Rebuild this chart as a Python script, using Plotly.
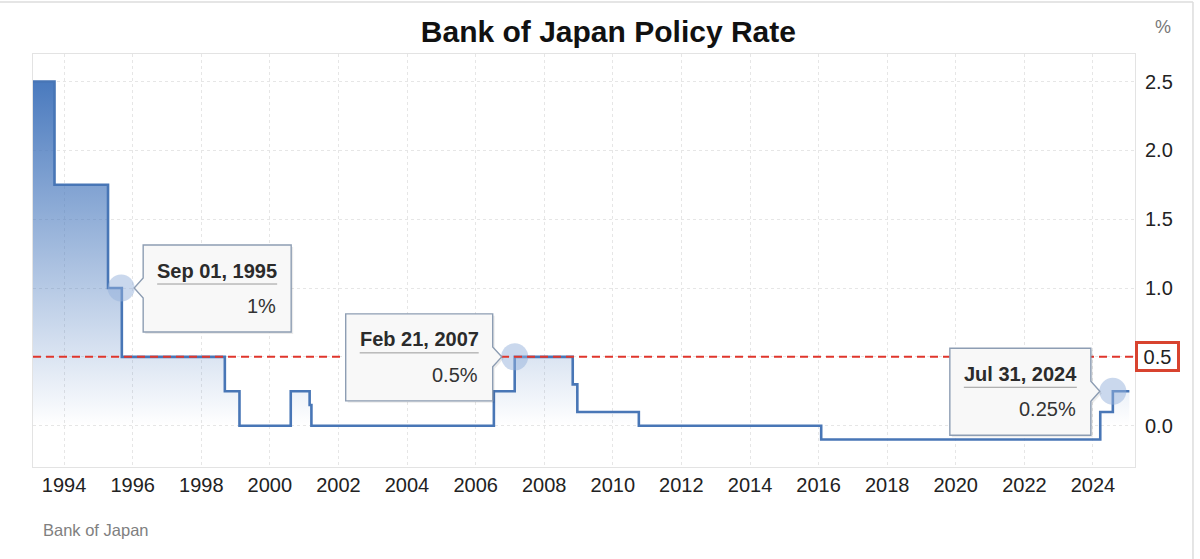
import plotly.graph_objects as go
import pandas as pd

# ---------------- data ----------------
change_dates = ["1993-02-04", "1993-09-21", "1995-04-14", "1995-09-01", "1995-09-08",
                "1998-09-09", "1999-02-12", "2000-08-11", "2001-02-28", "2001-03-19",
                "2006-07-14", "2007-02-21", "2008-10-31", "2008-12-19", "2010-10-05",
                "2016-01-29", "2024-03-19", "2024-07-31", "2025-01-23"]
rates = [2.5, 1.75, 1.0, 1.0, 0.5,
         0.25, 0.0, 0.25, 0.15, 0.0,
         0.25, 0.5, 0.3, 0.1, 0.0,
         -0.1, 0.1, 0.25, 0.25]

highlight_dates = ["1995-09-01", "2007-02-21", "2024-07-31"]
highlight_rates = [1.0, 0.5, 0.25]
reference_level = 0.5

x_tick_years = list(range(1994, 2025, 2))
y_tick_values = [0.0, 0.5, 1.0, 1.5, 2.0, 2.5]

title_text = "Bank of Japan Policy Rate"
source_text = "Bank of Japan"
unit_text = "%"

# ---------------- styles ----------------
FONT = "Liberation Sans, Arial, Helvetica, sans-serif"
LINE_COLOR = "rgb(72,118,182)"
tip_side = [1, -1, -1]        # +1: box to the right of the point, -1: to the left
tip_width = [148, 147, 141]
GAP, TIP, TOP, BOT, PAD = 22, 13, 43, -44, 14

fig = go.Figure()

fig.add_trace(go.Scatter(
    x=change_dates, y=rates, mode="lines", line_shape="hv",
    line=dict(color=LINE_COLOR, width=2.6),
    fill="tozeroy",
    fillgradient=dict(type="vertical", start=0, stop=2.5,
                      colorscale=[[0, "rgba(74,122,190,0)"], [1, "rgba(74,122,190,1)"]]),
    hoverinfo="skip"))

fig.add_trace(go.Scatter(
    x=highlight_dates, y=highlight_rates, mode="markers",
    marker=dict(size=27, color="rgba(150,178,220,0.5)", line=dict(width=0)),
    hoverinfo="skip"))

# reference dashed line
fig.add_shape(type="line", xref="paper", x0=0, x1=1, yref="y",
              y0=reference_level, y1=reference_level,
              line=dict(color="#e0362c", width=2, dash="8px,5px"), layer="above")

# tooltips
for d, v, s, w in zip(highlight_dates, highlight_rates, tip_side, tip_width):
    def box_path(dx=0, dy=0):
        pts = [(s * GAP, TOP), (s * (GAP + w), TOP), (s * (GAP + w), BOT), (s * GAP, BOT),
               (s * GAP, -10), (s * TIP, 0), (s * GAP, 10)]
        return "M " + " L ".join(f"{x + dx},{y + dy}" for x, y in pts) + " Z"
    common = dict(xref="x", yref="y", xsizemode="pixel", ysizemode="pixel",
                  xanchor=d, yanchor=v, layer="above")
    fig.add_shape(type="path", path=box_path(2, -2), fillcolor="rgba(0,0,0,0.08)",
                  line=dict(width=0), **common)
    fig.add_shape(type="path", path=box_path(), fillcolor="#f8f8f8",
                  line=dict(color="#8d9db3", width=1.4), **common)
    if s > 0:
        left, right = GAP + PAD, GAP + w - PAD
    else:
        left, right = -(GAP + w - PAD), -(GAP + PAD)
    fig.add_shape(type="line", x0=left, x1=right, y0=TOP - 39, y1=TOP - 39,
                  line=dict(color="#9a9a9a", width=1), **common)
    label = pd.Timestamp(d).strftime("%b %d, %Y")
    fig.add_annotation(x=d, y=v, xref="x", yref="y", showarrow=False,
                       text=f"<b>{label}</b>", xanchor="center", yanchor="middle",
                       xshift=(left + right) / 2, yshift=TOP - 25.5,
                       font=dict(family=FONT, size=20, color="#2b2b2b"))
    fig.add_annotation(x=d, y=v, xref="x", yref="y", showarrow=False,
                       text=f"{v:g}%", xanchor="right", yanchor="middle",
                       xshift=right + 1, yshift=TOP - 61,
                       font=dict(family=FONT, size=20, color="#333333"))

# highlighted tick label
fig.add_annotation(x=1, xref="paper", y=reference_level, yref="y", showarrow=False,
                   text=f"{reference_level:.1f}", xanchor="left", yanchor="middle",
                   width=37, height=23, borderpad=1, borderwidth=3,
                   bordercolor="#d8432f", bgcolor="white", align="center",
                   font=dict(family=FONT, size=20, color="#222"))

# unit label and source
fig.add_annotation(x=1.0254, y=1.065, xref="paper", yref="paper", showarrow=False,
                   text=unit_text, xanchor="center", yanchor="middle",
                   font=dict(family=FONT, size=18, color="#777"))
fig.add_annotation(x=0.0073, y=-0.1525, xref="paper", yref="paper", showarrow=False,
                   text=source_text, xanchor="left", yanchor="middle",
                   font=dict(family=FONT, size=16.5, color="#808080"))

# outer card frame
fig.add_shape(type="line", xref="paper", yref="paper", x0=-0.04, x1=1.0526, y0=1.1259, y1=1.1259,
              line=dict(color="#dddddd", width=1.5))
fig.add_shape(type="line", xref="paper", yref="paper", x0=1.0526, x1=1.0526, y0=1.1259, y1=-0.25,
              line=dict(color="#dddddd", width=1.5))

fig.update_layout(
    width=1200, height=559,
    margin=dict(l=33, r=65, t=54, b=92),
    plot_bgcolor="white", paper_bgcolor="white",
    showlegend=False, hovermode=False,
    font=dict(family=FONT, color="#222"),
    title=dict(text=f"<b>{title_text}</b>", x=0.507, xanchor="center",
               y=1 - 31 / 559, yanchor="middle",
               font=dict(family=FONT, size=30, color="#111")),
    xaxis=dict(type="date", range=["1993-02-04", "2025-03-24"],
               tickvals=[f"{y}-01-01" for y in x_tick_years],
               ticktext=[str(y) for y in x_tick_years],
               showgrid=True, gridcolor="#e6e6e6", griddash="dot", gridwidth=1,
               showline=True, linecolor="#e3e3e3", mirror=True, ticks="",
               zeroline=False, tickfont=dict(family=FONT, size=20, color="#222")),
    yaxis=dict(side="right", range=[-0.3, 2.7], tickvals=y_tick_values, tickformat=".1f",
               showgrid=True, gridcolor="#e6e6e6", griddash="dot", gridwidth=1,
               showline=True, linecolor="#e3e3e3", mirror=True, ticks="",
               ticklabelstandoff=5, zeroline=False,
               tickfont=dict(family=FONT, size=20, color="#222")),
)

fig.write_html("out.html", config={"displayModeBar": False},
               post_script="document.body.style.margin='0';document.body.style.overflow='hidden';")
